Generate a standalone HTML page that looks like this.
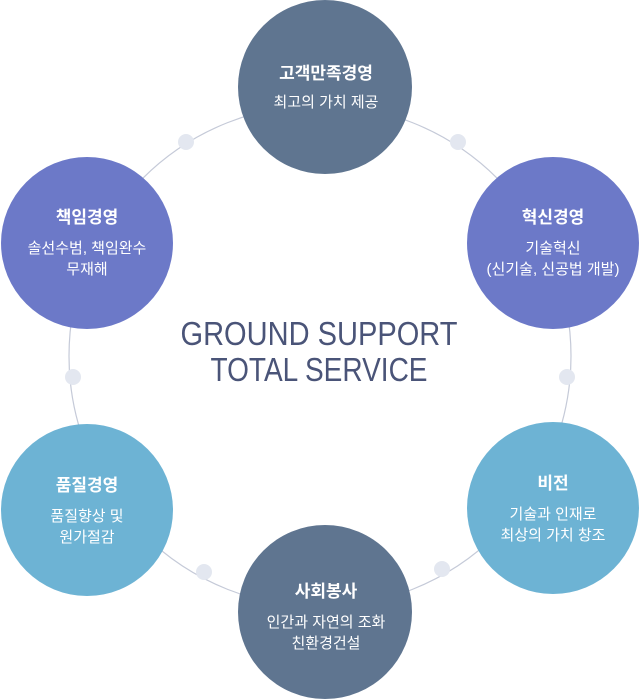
<!DOCTYPE html>
<html><head><meta charset="utf-8"><style>
html,body{margin:0;padding:0;background:#fff;}
svg{display:block;}
text{font-family:"Liberation Sans","Noto Sans CJK KR",sans-serif;}
</style></head><body>
<svg width="640" height="700" viewBox="0 0 640 700" xmlns="http://www.w3.org/2000/svg">
<circle cx="320" cy="356" r="251" fill="none" stroke="#c5cad8" stroke-width="1.2"/>
<g fill="#e3e7f0">
<circle cx="186" cy="142" r="8"/>
<circle cx="458" cy="142" r="8"/>
<circle cx="73" cy="377" r="8"/>
<circle cx="567" cy="377" r="8"/>
<circle cx="204" cy="572" r="8"/>
<circle cx="442" cy="569" r="8"/>
</g>
<circle cx="325" cy="87" r="87" fill="#5f7590"/>
<circle cx="87" cy="243" r="86" fill="#6c79c8"/>
<circle cx="553" cy="243" r="86" fill="#6c79c8"/>
<circle cx="87" cy="510" r="86" fill="#6db3d4"/>
<circle cx="553" cy="508" r="86" fill="#6db3d4"/>
<circle cx="325" cy="612" r="87" fill="#5f7590"/>
<g fill="#fff" text-anchor="middle">
<text x="326" y="79" font-size="17" font-weight="bold">고객만족경영</text>
<text x="326" y="107" font-size="15">최고의 가치 제공</text>
<text x="87" y="223" font-size="17" font-weight="bold">책임경영</text>
<text x="87" y="253" font-size="15">솔선수범, 책임완수</text>
<text x="87" y="274" font-size="15">무재해</text>
<text x="553" y="223" font-size="17" font-weight="bold">혁신경영</text>
<text x="553" y="253" font-size="15">기술혁신</text>
<text x="553" y="274" font-size="15">(신기술, 신공법 개발)</text>
<text x="87" y="491" font-size="17" font-weight="bold">품질경영</text>
<text x="87" y="521" font-size="15">품질향상 및</text>
<text x="87" y="542" font-size="15">원가절감</text>
<text x="553" y="489" font-size="17" font-weight="bold">비전</text>
<text x="553" y="519" font-size="15">기술과 인재로</text>
<text x="553" y="540" font-size="15">최상의 가치 창조</text>
<text x="326" y="597" font-size="17" font-weight="bold">사회봉사</text>
<text x="326" y="627" font-size="15">인간과 자연의 조화</text>
<text x="326" y="648" font-size="15">친환경건설</text>
</g>
<g fill="#4a5478" text-anchor="middle" font-size="33">
<text x="319" y="345" textLength="277" lengthAdjust="spacingAndGlyphs">GROUND SUPPORT</text>
<text x="319" y="381" textLength="217" lengthAdjust="spacingAndGlyphs">TOTAL SERVICE</text>
</g>
</svg>
</body></html>
